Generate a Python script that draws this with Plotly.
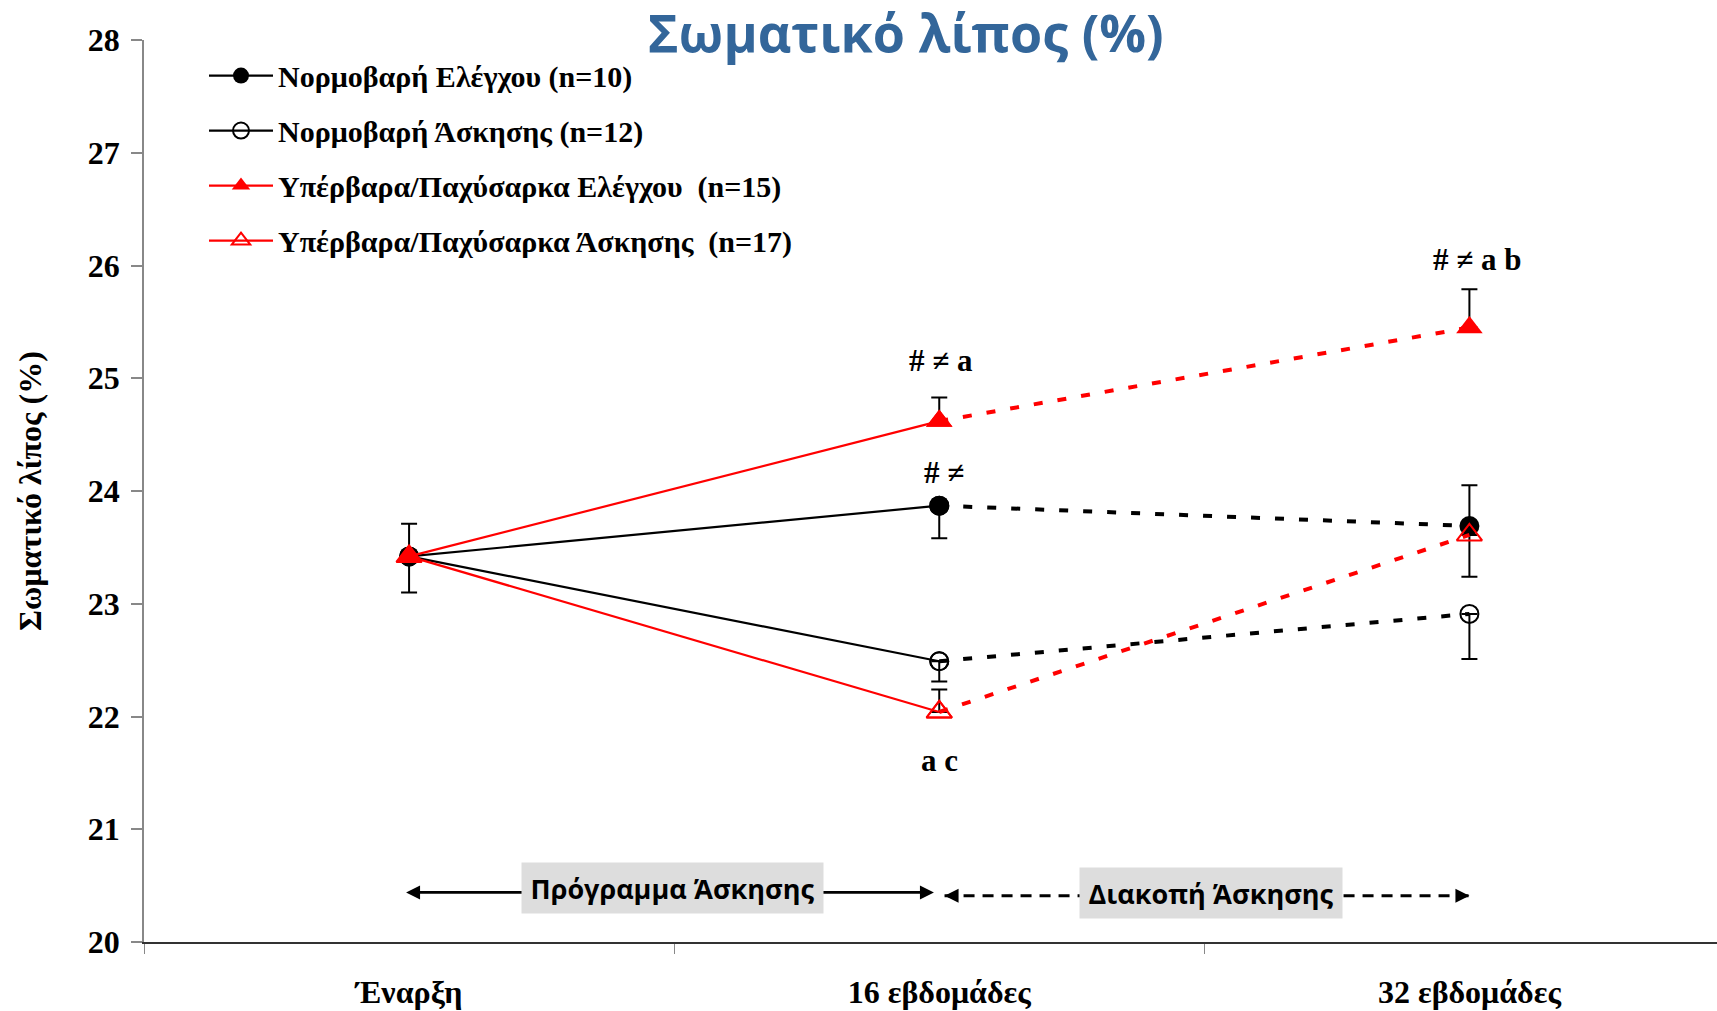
import plotly.graph_objects as go

# ---------------- data ----------------
categories = ["Έναρξη", "16 εβδομάδες", "32 εβδομάδες"]

names = ["Νορμοβαρή Ελέγχου (n=10)",
         "Νορμοβαρή Άσκησης (n=12)",
         "Υπέρβαρα/Παχύσαρκα Ελέγχου  (n=15)",
         "Υπέρβαρα/Παχύσαρκα Άσκησης  (n=17)"]

nc_values = [23.42, 23.87, 23.69]    # Νορμοβαρή Ελέγχου
ne_values = [23.42, 22.49, 22.91]    # Νορμοβαρή Άσκησης
noc_values = [23.42, 24.62, 25.45]   # Υπέρβαρα/Παχύσαρκα Ελέγχου
oe_values = [23.42, 22.04, 23.61]    # Υπέρβαρα/Παχύσαρκα Άσκησης

# error bars (SE): upper / lower part shown; None = no bar drawn
nc_err_plus = [0.29, 0.0, 0.36]
nc_err_minus = [0.32, 0.29, 0.0]
ne_err_plus = [None, 0.0, 0.0]
ne_err_minus = [None, 0.18, 0.40]
noc_err_plus = [None, 0.21, 0.34]
noc_err_minus = [None, 0.0, 0.0]
oe_err_plus = [None, 0.20, 0.0]
oe_err_minus = [None, 0.0, 0.37]

sig_noc_16 = "# ≠ a"
sig_nc_16 = "# ≠"
sig_oe_16 = "a c"
sig_noc_32 = "# ≠ a b"

phase1_label = "Πρόγραμμα Άσκησης"
phase2_label = "Διακοπή Άσκησης"

title_text = "Σωματικό λίπος (%)"
y_title = "Σωματικό λίπος (%)"

# ---------------- styles ----------------
SERIF = "Liberation Serif"
series = [
    dict(name=names[0], y=nc_values, ep=nc_err_plus, em=nc_err_minus, color="black",
         marker=dict(symbol="circle", size=20, color="black")),
    dict(name=names[1], y=ne_values, ep=ne_err_plus, em=ne_err_minus, color="black",
         marker=dict(symbol="circle-open", size=18, color="black", line=dict(width=2, color="black"))),
    dict(name=names[2], y=noc_values, ep=noc_err_plus, em=noc_err_minus, color="#FF0000",
         marker=dict(symbol="triangle-up", size=23, color="#FF0000")),
    dict(name=names[3], y=oe_values, ep=oe_err_plus, em=oe_err_minus, color="#FF0000",
         marker=dict(symbol="triangle-up-open", size=22, color="#FF0000", line=dict(width=2, color="#FF0000"))),
]

fig = go.Figure()

# error bars (bottom layer)
for s in series:
    idx = [i for i in range(len(categories)) if s["ep"][i] is not None]
    fig.add_trace(go.Scatter(
        x=[categories[i] for i in idx], y=[s["y"][i] for i in idx],
        mode="markers", marker=dict(size=1, opacity=0),
        error_y=dict(type="data", symmetric=False,
                     array=[s["ep"][i] for i in idx],
                     arrayminus=[s["em"][i] for i in idx],
                     color="black", thickness=2, width=8),
        legendgroup=s["name"], showlegend=False, hoverinfo="skip"))

# exercise programme period (solid)
for s in series:
    fig.add_trace(go.Scatter(
        x=categories[0:2], y=s["y"][0:2], mode="lines+markers",
        name="<b>" + s["name"] + "</b>",
        line=dict(color=s["color"], width=2.2),
        marker=s["marker"], legendgroup=s["name"], showlegend=True))

# detraining period (dashed)
for s in series:
    fig.add_trace(go.Scatter(
        x=categories[1:3], y=s["y"][1:3], mode="lines+markers",
        line=dict(color=s["color"], width=4, dash="9px,15px"),
        marker=s["marker"], legendgroup=s["name"], showlegend=False))

# ---------------- annotations ----------------
sig_font = dict(family=SERIF, size=31, color="black", weight="bold")
ann = [
    dict(x=categories[1], y=noc_values[1], text=sig_noc_16, yshift=61, xshift=2),
    dict(x=categories[1], y=nc_values[1], text=sig_nc_16, yshift=33, xshift=5),
    dict(x=categories[1], y=oe_values[1], text=sig_oe_16, yshift=-49),
    dict(x=categories[2], y=noc_values[2], text=sig_noc_32, yshift=68, xshift=8),
]
for a in ann:
    fig.add_annotation(xref="x", yref="y", showarrow=False, font=sig_font, **a)

# phase arrows
arrow_y1 = 20.44
arrow_y2 = 20.41
fig.add_annotation(xref="x", yref="y", axref="x", ayref="y",
                   x=0.99, y=arrow_y1, ax=-0.0085, ay=arrow_y1, text="",
                   showarrow=True, arrowhead=2, arrowside="end+start",
                   arrowwidth=2.8, arrowsize=1, arrowcolor="black")
fig.add_shape(type="line", xref="x", yref="y", x0=1.01, x1=2.0, y0=arrow_y2, y1=arrow_y2,
              line=dict(color="black", width=2.8, dash="11px,8px"))
for xt, off in [(1.01, 12), (2.0, -12)]:
    fig.add_annotation(xref="x", yref="y", x=xt, y=arrow_y2, ax=off, ay=0, text="",
                       showarrow=True, arrowhead=2, arrowwidth=2.8, arrowsize=1,
                       arrowcolor="black")

box_font = dict(family="Open Sans", size=27, color="black", weight="bold")
fig.add_annotation(xref="x", yref="y", x=0.497, y=20.483, text=phase1_label,
                   showarrow=False, bgcolor="#DDDDDD", font=box_font,
                   width=287, height=36, borderpad=7)
fig.add_annotation(xref="x", yref="y", x=1.513, y=20.435, text=phase2_label,
                   showarrow=False, bgcolor="#DDDDDD", font=box_font,
                   width=248, height=36, borderpad=7)

# ---------------- layout ----------------
FIG_W, FIG_H = 1717, 1011
M_L, M_T, M_B = 144, 40, 69
plot_w = FIG_W - M_L
tick_font = dict(family=SERIF, size=32, color="black", weight="bold")
fig.update_layout(
    width=FIG_W, height=FIG_H,
    margin=dict(l=M_L, r=0, t=M_T, b=M_B, pad=0, autoexpand=False),
    paper_bgcolor="white", plot_bgcolor="white",
    title=dict(text="<b>" + title_text + "</b>", x=0.5275, xanchor="center",
               y=0.9665, yanchor="middle", xref="container", yref="container",
               font=dict(family="Open Sans", size=52, color="#33669A")),
    legend=dict(x=(204 - M_L) / plot_w, y=0.9894, xanchor="left", yanchor="top",
                bgcolor="rgba(0,0,0,0)", tracegroupgap=13, traceorder="grouped",
                itemwidth=64,
                font=dict(family=SERIF, size=30, color="black")),
    xaxis=dict(type="category", categoryarray=categories, range=[-0.5, 2.467],
               showline=True, linecolor="#333333", linewidth=2, automargin=False,
               ticks="outside", tickson="boundaries", ticklen=10, tickcolor="#888888",
               tickwidth=1, showgrid=False, zeroline=False, tickfont=tick_font,
               ticklabelstandoff=21),
    yaxis=dict(range=[20, 28], dtick=1, showline=True, linecolor="#888888", linewidth=1.5,
               ticks="outside", ticklen=11, tickcolor="#888888", tickwidth=1.5,
               automargin=False,
               showgrid=False, zeroline=False, tickfont=tick_font, ticklabelstandoff=5,
               title=dict(text=y_title, standoff=37,
                          font=dict(family=SERIF, size=32, color="black", weight="bold"))),
    showlegend=True,
)

# remove the default 8px page margin so the figure fills the window exactly
fig.write_html("out.html", config={"displayModeBar": False},
               post_script="document.body.style.margin='0';document.body.style.overflow='hidden';")
